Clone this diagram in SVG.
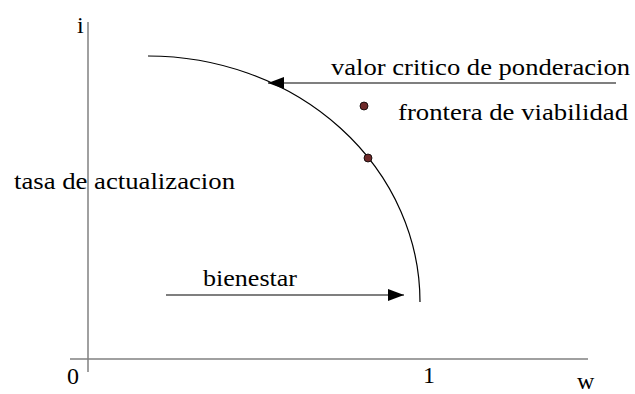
<svg xmlns="http://www.w3.org/2000/svg" width="635" height="394" viewBox="0 0 635 394">
<style>
text{font-family:'Times New Roman','Liberation Serif','DejaVu Serif',serif;font-size:24px;fill:#000}
.axis{stroke:#808080;stroke-width:1.5;fill:none}
.conn{stroke:#000;stroke-width:1.2;fill:none}
.dot{fill:#6e2a2a;stroke:#000;stroke-width:0.8}
</style>
<defs>
<marker id="ah" viewBox="0 0 16 12" refX="16" refY="6" markerWidth="16" markerHeight="12" markerUnits="userSpaceOnUse" orient="auto">
<path d="M0,0 L16,6 L0,12 Z" fill="#000"/>
</marker>
</defs>
<rect width="635" height="394" fill="#fff"/>
<g id="axes">
<line class="axis" x1="88" y1="22" x2="88" y2="372"/>
<line class="axis" x1="70" y1="359" x2="588" y2="359"/>
<text x="77" y="33">i</text>
<text x="67" y="384">0</text>
<text x="423" y="383">1</text>
<text x="577" y="389">w</text>
<text x="14" y="189" textLength="221" lengthAdjust="spacingAndGlyphs">tasa de actualizacion</text>
</g>
<g id="frontier">
<path class="conn" stroke-width="1" d="M148,56 A272,246 0 0 1 420,302"/>
</g>
<g id="points">
<circle class="dot" cx="364" cy="106" r="4"/>
<circle class="dot" cx="368" cy="158" r="4"/>
</g>
<g id="labels">
<text x="331" y="75" textLength="299" lengthAdjust="spacingAndGlyphs">valor critico de ponderacion</text>
<text x="398" y="120" textLength="230" lengthAdjust="spacingAndGlyphs">frontera de viabilidad</text>
<text x="203" y="286" textLength="94" lengthAdjust="spacingAndGlyphs">bienestar</text>
</g>
<g id="connectors">
<line class="conn" x1="616" y1="83" x2="268" y2="83" marker-end="url(#ah)" stroke="#606060"/>
<line class="conn" x1="166" y1="295" x2="404" y2="295" marker-end="url(#ah)"/>
</g>
</svg>
